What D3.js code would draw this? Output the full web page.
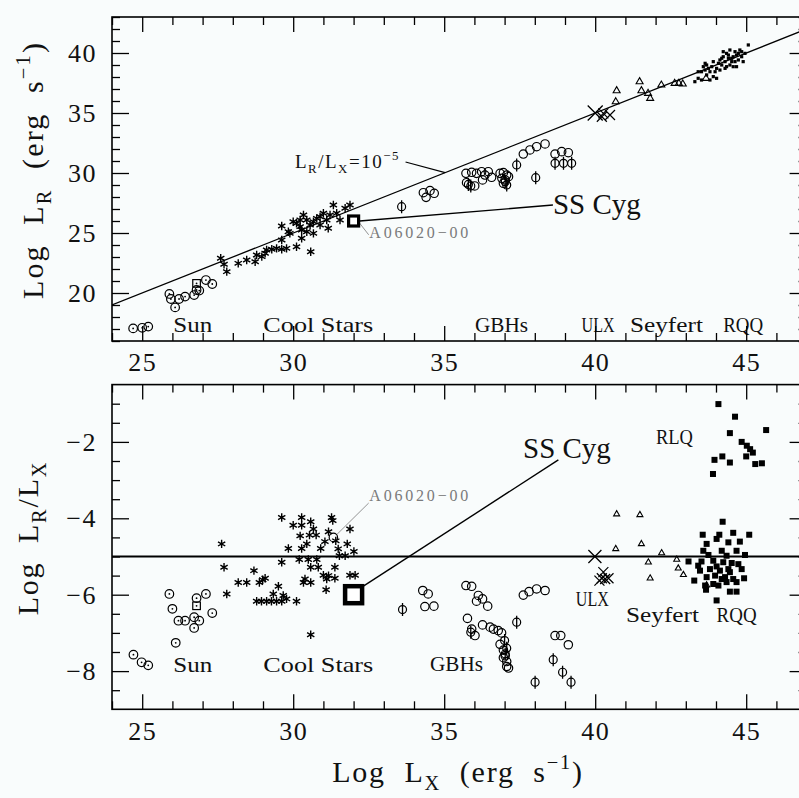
<!DOCTYPE html>
<html><head><meta charset="utf-8">
<script src="https://cdn.jsdelivr.net/npm/d3@7"></script>
<style>
html,body{margin:0;padding:0;background:#f9fcfc;}
svg{display:block;}
</style></head><body>
<svg id="chart" width="799" height="798"></svg>
<script>
// ---------------- DATA (log units) ----------------
const xDomain = [24, 47];
const topYDomain = [16, 43];
const botYDomain = [-9, -0.5];
const xMajorTicks = [25, 30, 35, 40, 45];
const topYMajorTicks = [20, 25, 30, 35, 40];
const botYMajorTicks = [-2, -4, -6, -8];

// ---- top panel: Log LR vs Log LX
const topSun = [[24.7,17.05],[25.0,17.1],[25.2,17.2],[25.9,19.92],[25.95,19.5],[26.09,18.8],[26.22,19.5],[26.42,19.7],[26.72,19.83],[26.8,20.25],[26.89,20.2],[27.11,21.08],[27.32,20.75]];
const topSunSquare = [[26.8,20.8]];
const topCoolStars = [[27.6,22.89],[27.71,22.39],[27.8,21.78],[28.18,22.47],[28.46,22.75],[28.74,22.61],[28.79,23.17],[28.96,23.03],[29.07,23.31],[29.12,23.58],[29.29,23.64],[29.45,23.72],[29.62,23.64],[29.62,24.42],[29.78,23.72],[30.11,23.86],[30.58,23.44],[29.62,25.58],[29.84,25.11],[30.0,25.94],[30.23,26.08],[30.28,25.25],[30.28,24.56],[30.45,25.11],[30.56,25.67],[30.67,24.97],[30.78,26.22],[30.89,26.36],[31.0,26.64],[31.11,26.08],[31.16,25.39],[31.22,26.5],[31.33,27.33],[31.44,26.64],[31.55,26.08],[31.72,27.06],[30.34,26.5],[30.11,25.81],[30.67,25.94],[30.89,25.67],[29.89,24.97],[30.45,26.08],[30.23,25.53],[31.88,27.33]];
const topGbhCircles = [[35.72,29.97],[35.91,30.06],[36.07,29.97],[36.24,30.11],[36.35,29.83],[36.46,30.11],[36.27,29.42],[36.57,29.64],[35.74,29.19],[36.01,28.92],[36.85,29.97],[36.96,30.03],[37.07,29.83],[36.91,29.56],[37.02,29.42],[37.13,29.69],[36.96,29.14],[37.62,31.58],[37.84,31.92],[38.06,32.19],[38.34,32.42],[38.67,31.58],[38.89,31.78],[39.11,31.69],[34.31,28.36],[34.53,28.53],[34.67,28.31],[34.4,27.97]];
const topGbhPhi = [[33.59,27.19],[35.88,28.92],[35.8,29.05],[37.02,29.28],[37.07,29.0],[37.4,30.67],[38.03,29.61],[38.67,30.81],[38.95,30.81],[39.22,30.81]];
const topUlxBig = [[40.0,35.0]];
const topUlx = [[40.22,34.69],[40.49,34.83],[40.27,34.97]];
const topSeyferts = [[40.71,36.86],[40.68,35.94],[41.47,37.61],[41.53,36.86],[41.75,36.64],[41.82,36.22],[42.19,37.33],[42.63,37.47],[42.77,37.47],[42.9,37.42],[43.67,37.89]];
const topQuasars = [[43.3,37.61],[43.41,37.89],[43.52,38.44],[43.58,38.86],[43.64,38.58],[43.69,38.17],[43.75,38.72],[43.8,38.44],[43.86,38.86],[43.91,38.03],[43.97,38.44],[44.02,38.72],[44.08,39.14],[44.13,39.42],[44.19,39.0],[44.24,39.69],[44.3,39.28],[44.35,39.97],[44.41,39.56],[44.46,39.0],[44.52,39.28],[44.57,39.69],[44.63,40.11],[44.68,39.83],[44.74,39.42],[44.79,40.25],[44.85,39.69],[44.9,39.28],[44.96,39.97],[44.24,40.11],[44.19,39.56],[44.35,38.86],[44.46,40.25],[44.57,38.86],[44.68,38.86],[44.13,38.58],[44.02,37.89],[43.8,37.75],[43.64,39.14],[43.41,38.44],[43.52,37.75],[43.69,39.0],[43.91,39.28],[44.41,39.83],[44.52,39.56],[44.74,39.97],[44.85,40.11],[45.07,40.67],[44.3,38.72],[44.63,39.28]];
const topSSCyg = [[32.0, 26.0]];
const refRatio = -5; // LR/LX = 1e-5

// ---- bottom panel: Log LR/LX vs Log LX
const botSun = [[24.71,-7.57],[24.98,-7.77],[25.2,-7.85],[25.9,-5.98],[26.0,-6.37],[26.11,-7.26],[26.2,-6.68],[26.42,-6.68],[26.72,-6.59],[26.72,-6.87],[26.8,-6.09],[26.89,-6.68],[27.11,-5.98],[27.32,-6.48]];
const botSunSquare = [[26.8,-6.29]];
const botCoolStars = [[27.63,-4.67],[27.71,-5.28],[27.8,-5.98],[28.18,-5.68],[28.46,-5.68],[28.7,-5.37],[28.79,-6.17],[28.88,-5.68],[28.99,-5.61],[29.07,-5.57],[28.95,-6.17],[29.12,-6.17],[29.28,-6.17],[29.45,-6.17],[29.62,-6.17],[29.34,-5.98],[29.51,-5.78],[29.62,-5.15],[29.62,-3.98],[29.67,-6.02],[29.78,-6.11],[29.84,-4.79],[30.0,-4.18],[30.11,-6.17],[30.2,-5.08],[30.28,-3.98],[30.28,-4.18],[30.23,-4.46],[30.28,-4.79],[30.34,-5.68],[30.39,-5.59],[30.45,-4.67],[30.5,-5.08],[30.54,-4.44],[30.58,-4.09],[30.58,-5.28],[30.58,-5.68],[30.58,-7.05],[30.67,-4.28],[30.76,-4.44],[30.78,-5.08],[30.83,-5.28],[30.91,-4.79],[31.0,-5.49],[31.05,-4.61],[31.09,-5.87],[31.11,-5.59],[31.17,-5.5],[31.17,-4.35],[31.27,-3.98],[31.31,-4.06],[31.38,-5.28],[31.38,-5.57],[31.41,-4.59],[31.49,-4.8],[31.53,-4.98],[31.72,-4.98],[31.79,-4.67],[31.88,-4.28],[31.88,-5.49],[32.05,-5.49],[32.01,-4.87]];
const botA0620 = [[31.33,-4.5]];
const botGbhCircles = [[34.29,-5.89],[34.47,-5.98],[34.36,-6.31],[34.66,-6.3],[35.72,-5.76],[35.91,-5.78],[36.13,-6.02],[36.07,-6.17],[36.27,-6.11],[36.44,-6.3],[35.77,-6.62],[35.91,-6.9],[36.02,-7.07],[36.27,-6.79],[36.52,-6.85],[36.63,-6.9],[36.79,-6.94],[36.9,-7.0],[36.85,-7.3],[36.96,-7.45],[37.02,-7.6],[37.07,-7.75],[37.07,-7.88],[37.13,-7.92],[36.96,-7.65],[37.62,-6.01],[37.81,-5.92],[38.06,-5.85],[38.34,-5.89],[38.67,-7.07],[38.86,-7.07],[39.11,-7.31]];
const botGbhPhi = [[33.62,-6.39],[35.88,-6.98],[37.0,-7.2],[37.07,-7.4],[37.02,-7.55],[37.4,-6.72],[38.01,-8.29],[38.61,-7.7],[38.92,-8.03],[39.2,-8.29]];
const botUlxBig = [[39.99,-5.0]];
const botUlx = [[40.22,-5.57],[40.33,-5.59],[40.44,-5.57],[40.14,-5.63],[40.27,-5.41]];
const botSeyferts = [[40.71,-3.89],[41.48,-3.91],[40.68,-4.8],[41.53,-4.67],[42.2,-4.91],[41.76,-5.15],[41.82,-5.57],[42.7,-5.08],[42.75,-5.31],[42.92,-5.48],[43.69,-5.75]];
const botRLQ = [[44.08,-1.01],[44.63,-1.34],[44.46,-1.77],[45.66,-1.69],[44.85,-2.0],[45.02,-2.1],[45.13,-2.19],[45.22,-2.28],[45.0,-2.38],[45.3,-2.58],[45.52,-2.56],[43.95,-2.47],[44.21,-2.38],[44.46,-2.54],[43.9,-2.84]];
const botRQQ = [[44.22,-4.09],[43.56,-4.43],[44.11,-4.43],[44.57,-4.38],[45.1,-4.43],[43.69,-4.67],[44.02,-4.54],[44.41,-4.63],[44.79,-4.61],[43.58,-4.85],[44.19,-4.85],[44.68,-4.85],[44.96,-4.96],[43.75,-4.96],[44.35,-4.98],[43.09,-5.13],[43.52,-5.13],[43.91,-5.11],[44.24,-5.15],[44.52,-5.17],[44.74,-5.2],[43.47,-5.37],[43.8,-5.33],[44.13,-5.37],[44.41,-5.33],[44.85,-5.33],[43.28,-5.63],[43.69,-5.54],[43.97,-5.5],[44.3,-5.54],[44.57,-5.59],[44.93,-5.57],[43.64,-5.76],[43.91,-5.72],[44.08,-5.76],[44.35,-5.67],[44.68,-5.67],[43.67,-5.87],[44.46,-5.92],[44.68,-5.92],[44.02,-6.15],[43.41,-5.24],[44.02,-5.26],[44.46,-5.41],[44.19,-5.59]];
const botSSCyg = [[32.0,-6.0]];

// ---- class labels [text, logLX of left edge, baseline value]
const topClassLabels = [["Sun",26.03,16.75],["Cool Stars",29.01,16.75],["GBHs",36.02,16.75],["ULX",39.55,16.75],["Seyfert",41.15,16.75],["RQQ",44.24,16.75]];
const botClassLabels = [["Sun",26.03,-8.02],["Cool Stars",29.01,-8.02],["GBHs",34.53,-7.99],["ULX",39.36,-6.3],["Seyfert",41.02,-6.72],["RQQ",44.02,-6.72],["RLQ",42.01,-2.05]];
// rendered widths (px) of the label glyph runs, to mimic the narrow capitals of the original font
const classLabelWidth = {"Sun":39,"Cool Stars":110,"GBHs":53,"ULX":33,"Seyfert":73,"RQQ":40,"RLQ":37};

// ---------------- DRAWING ----------------
const svg = d3.select("#chart");
svg.append("rect").attr("width",799).attr("height",798).attr("fill","#f9fcfc");

const x = d3.scaleLinear().domain(xDomain).range([112, 806.6]);
const yTop = d3.scaleLinear().domain(topYDomain).range([341, 17]);
const yBot = d3.scaleLinear().domain(botYDomain).range([709.3, 384.6]);

const SERIF = "'Liberation Serif','Times New Roman',serif";

function minorValues(lo, hi, step, majors) {
  const out = [];
  for (let v = lo; v <= hi + 1e-9; v += step) {
    const r = Math.round(v*100)/100;
    if (!majors.some(m => Math.abs(m - r) < 1e-6)) out.push(r);
  }
  return out;
}

function frameAxes(g, y, yMajor, yMinor) {
  const [xl, xr] = x.range();
  const [yb, yt] = y.range();
  const xMinor = minorValues(xDomain[0], xDomain[1], 1, xMajorTicks);
  const styleAxis = a => { a.select(".domain").remove(); a.selectAll("line").attr("stroke","#000").attr("stroke-width",1.3); };
  const styleText = a => a.selectAll("text").attr("font-family",SERIF).attr("font-size",26).attr("letter-spacing",1.5).attr("fill","#111");
  g.append("g").attr("transform",`translate(0,${yb})`)
    .call(d3.axisBottom(x).tickValues(xMajorTicks).tickSize(-15).tickPadding(12).tickFormat(d3.format("d")))
    .call(styleAxis).call(styleText);
  g.append("g").attr("transform",`translate(0,${yb})`)
    .call(d3.axisBottom(x).tickValues(xMinor).tickSize(-8).tickFormat("")).call(styleAxis);
  g.append("g").attr("transform",`translate(0,${yt})`)
    .call(d3.axisTop(x).tickValues(xMajorTicks).tickSize(-15).tickFormat("")).call(styleAxis);
  g.append("g").attr("transform",`translate(0,${yt})`)
    .call(d3.axisTop(x).tickValues(xMinor).tickSize(-8).tickFormat("")).call(styleAxis);
  g.append("g").attr("transform",`translate(${xl},0)`)
    .call(d3.axisLeft(y).tickValues(yMajor).tickSize(-17).tickPadding(15))
    .call(styleAxis).call(styleText);
  g.append("g").attr("transform",`translate(${xl},0)`)
    .call(d3.axisLeft(y).tickValues(yMinor).tickSize(-8).tickFormat("")).call(styleAxis);
  g.append("g").attr("transform",`translate(${xr},0)`)
    .call(d3.axisRight(y).tickValues(yMajor).tickSize(-17).tickFormat("")).call(styleAxis);
  g.append("g").attr("transform",`translate(${xr},0)`)
    .call(d3.axisRight(y).tickValues(yMinor).tickSize(-8).tickFormat("")).call(styleAxis);
  g.append("rect").attr("x",xl).attr("y",yt).attr("width",xr-xl).attr("height",yb-yt)
    .attr("fill","none").attr("stroke","#000").attr("stroke-width",1.6);
}

// ---- symbol helpers
function sunSym(g, data, y, r=4.3) {
  const s = g.append("g");
  s.selectAll("circle.o").data(data).join("circle").attr("cx",d=>x(d[0])).attr("cy",d=>y(d[1])).attr("r",r)
    .attr("fill","none").attr("stroke","#000").attr("stroke-width",1.2);
  s.selectAll("circle.d").data(data).join("circle").attr("class","d").attr("cx",d=>x(d[0])).attr("cy",d=>y(d[1])).attr("r",0.9).attr("fill","#000");
}
function sunSquareSym(g, data, y, h=4) {
  g.append("g").selectAll("rect").data(data).join("rect").attr("x",d=>x(d[0])-h).attr("y",d=>y(d[1])-h).attr("width",2*h).attr("height",2*h)
    .attr("fill","none").attr("stroke","#000").attr("stroke-width",1.2);
  g.append("g").selectAll("circle").data(data).join("circle").attr("cx",d=>x(d[0])).attr("cy",d=>y(d[1])).attr("r",0.9).attr("fill","#000");
}
function circleSym(g, data, y, r=4.2) {
  g.append("g").selectAll("circle").data(data).join("circle").attr("cx",d=>x(d[0])).attr("cy",d=>y(d[1])).attr("r",r)
    .attr("fill","none").attr("stroke","#000").attr("stroke-width",1.2);
}
function phiSym(g, data, y, r=4, l=6.5) {
  const s = g.append("g");
  circleSym(s, data, y, r);
  s.selectAll("line").data(data).join("line").attr("x1",d=>x(d[0])).attr("x2",d=>x(d[0]))
    .attr("y1",d=>y(d[1])-l).attr("y2",d=>y(d[1])+l).attr("stroke","#000").attr("stroke-width",1.3);
}
function starSym(g, data, y, a=4.2) {
  const p = d => {
    const cx = x(d[0]), cy = y(d[1]);
    let s = `M${cx},${cy-a}L${cx},${cy+a}`;
    [30,150].forEach(t => { const r = t*Math.PI/180; s += `M${cx-a*Math.cos(r)},${cy-a*Math.sin(r)}L${cx+a*Math.cos(r)},${cy+a*Math.sin(r)}`; });
    return s;
  };
  g.append("g").selectAll("path").data(data).join("path").attr("d",p).attr("stroke","#000").attr("stroke-width",1.4).attr("fill","none");
}
function crossSym(g, data, y, a=5, w=1.3) {
  g.append("g").selectAll("path").data(data).join("path")
    .attr("d",d=>{const cx=x(d[0]),cy=y(d[1]);return `M${cx-a},${cy-a}L${cx+a},${cy+a}M${cx-a},${cy+a}L${cx+a},${cy-a}`;})
    .attr("stroke","#000").attr("stroke-width",w).attr("fill","none");
}
function triSym(g, data, y, s=6.5) {
  const h = s*Math.sqrt(3)/2;
  g.append("g").selectAll("path").data(data).join("path")
    .attr("d",d=>{const cx=x(d[0]),cy=y(d[1]);return `M${cx},${cy-h*2/3}L${cx+s/2},${cy+h/3}L${cx-s/2},${cy+h/3}Z`;})
    .attr("stroke","#000").attr("stroke-width",1.1).attr("fill","none");
}
function sqFilled(g, data, y, s) {
  g.append("g").selectAll("rect").data(data).join("rect").attr("x",d=>x(d[0])-s/2).attr("y",d=>y(d[1])-s/2)
    .attr("width",s).attr("height",s).attr("fill","#000");
}
function sqOpen(g, data, y, s, w) {
  g.append("g").selectAll("rect").data(data).join("rect").attr("x",d=>x(d[0])-s/2).attr("y",d=>y(d[1])-s/2)
    .attr("width",s).attr("height",s).attr("fill","#fff").attr("stroke","#000").attr("stroke-width",w);
}
function classLabels(g, labels, y) {
  g.append("g").selectAll("text").data(labels).join("text")
    .attr("x",d=>x(d[1])).attr("y",d=>y(d[2])).text(d=>d[0])
    .attr("textLength",d=>classLabelWidth[d[0]]).attr("lengthAdjust","spacingAndGlyphs")
    .attr("font-family",SERIF).attr("font-size",22).attr("fill","#111");
}
function rich(g, parts, fs) {
  // parts: [text, kind] kind: n | sub | sup
  const t = g.append("text").attr("font-family",SERIF).attr("font-size",fs).attr("fill","#111").style("white-space","pre");
  let off = 0;
  parts.forEach(([s,k]) => {
    const target = k==="sub" ? 0.28*fs : k==="sup" ? -0.42*fs : 0;
    t.append("tspan").text(s).attr("dy", target-off).attr("font-size", k==="n" ? fs : fs*0.68);
    off = target;
  });
  return t;
}

// ---- clip paths
const defs = svg.append("defs");
defs.append("clipPath").attr("id","clipTop").append("rect").attr("x",112).attr("y",17).attr("width",806.6-112).attr("height",341-17);
defs.append("clipPath").attr("id","clipBot").append("rect").attr("x",112).attr("y",384.6).attr("width",806.6-112).attr("height",709.3-384.6);

// ================= TOP PANEL =================
const gT = svg.append("g");
const mT = gT.append("g").attr("clip-path","url(#clipTop)");
mT.append("line").attr("x1",x(xDomain[0])).attr("y1",yTop(xDomain[0]+refRatio)).attr("x2",x(xDomain[1])).attr("y2",yTop(xDomain[1]+refRatio))
  .attr("stroke","#000").attr("stroke-width",1.3);
sunSym(mT, topSun, yTop);
sunSquareSym(mT, topSunSquare, yTop, 3.8);
starSym(mT, topCoolStars, yTop);
circleSym(mT, topGbhCircles, yTop);
phiSym(mT, topGbhPhi, yTop);
crossSym(mT, topUlxBig, yTop, 7.5, 1.3);
crossSym(mT, topUlx, yTop, 5, 1.2);
triSym(mT, topSeyferts, yTop, 7);
sqFilled(mT, topQuasars, yTop, 3.2);
// LR/LX label + leader
mT.append("line").attr("x1",x(33.72)).attr("y1",yTop(30.92)).attr("x2",x(35.03)).attr("y2",yTop(35.03+refRatio)).attr("stroke","#000").attr("stroke-width",1.1);
rich(gT,[["L","n"],["R","sub"],["/L","n"],["X","sub"],["=10","n"],["−5","sup"]],19)
  .attr("letter-spacing",1.5).attr("transform",`translate(${x(30.06)},${yTop(30.42)})`);
// A0620-00 leader + label
mT.append("line").attr("x1",x(32.02)).attr("y1",yTop(26.4)).attr("x2",x(32.5)).attr("y2",yTop(24.85)).attr("stroke","#888").attr("stroke-width",0.9);
gT.append("text").attr("x",x(32.52)).attr("y",yTop(24.6)).text("A06020−00")
  .attr("font-family",SERIF).attr("font-size",16).attr("letter-spacing",2.8).attr("fill","#7a7a7a");
// SS Cyg leader + square + label
mT.append("line").attr("x1",x(topSSCyg[0][0])+6).attr("y1",yTop(topSSCyg[0][1])).attr("x2",x(38.6)).attr("y2",yTop(27.33)).attr("stroke","#000").attr("stroke-width",1.4);
sqOpen(mT, topSSCyg, yTop, 10, 3.2);
gT.append("text").attr("x",x(38.6)).attr("y",yTop(26.62)).text("SS Cyg").attr("font-family",SERIF).attr("font-size",29).attr("fill","#111");
classLabels(gT, topClassLabels, yTop);
frameAxes(gT, yTop, topYMajorTicks, minorValues(topYDomain[0], topYDomain[1], 1, topYMajorTicks));

// ================= BOTTOM PANEL =================
const gB = svg.append("g");
const mB = gB.append("g").attr("clip-path","url(#clipBot)");
mB.append("line").attr("x1",x(xDomain[0])).attr("y1",yBot(refRatio)).attr("x2",x(xDomain[1])).attr("y2",yBot(refRatio))
  .attr("stroke","#000").attr("stroke-width",2);
sunSym(mB, botSun, yBot);
sunSquareSym(mB, botSunSquare, yBot, 3.8);
starSym(mB, botCoolStars, yBot);
circleSym(mB, botA0620, yBot, 4.2);
circleSym(mB, botGbhCircles, yBot);
phiSym(mB, botGbhPhi, yBot);
crossSym(mB, botUlxBig, yBot, 6.5, 1.3);
crossSym(mB, botUlx, yBot, 5, 1.2);
triSym(mB, botSeyferts, yBot, 6);
sqFilled(mB, botRLQ, yBot, 6);
sqFilled(mB, botRQQ, yBot, 6);
mB.append("line").attr("x1",x(31.45)).attr("y1",yBot(-4.42)).attr("x2",x(32.5)).attr("y2",yBot(-3.6)).attr("stroke","#888").attr("stroke-width",0.9);
gB.append("text").attr("x",x(32.52)).attr("y",yBot(-3.55)).text("A06020−00")
  .attr("font-family",SERIF).attr("font-size",16).attr("letter-spacing",2.8).attr("fill","#7a7a7a");
mB.append("line").attr("x1",x(botSSCyg[0][0])+9).attr("y1",yBot(botSSCyg[0][1])-8).attr("x2",x(38.78)).attr("y2",yBot(-2.47)).attr("stroke","#000").attr("stroke-width",1.4);
sqOpen(mB, botSSCyg, yBot, 17, 4.5);
gB.append("text").attr("x",x(37.61)).attr("y",yBot(-2.42)).text("SS Cyg").attr("font-family",SERIF).attr("font-size",29).attr("fill","#111");
classLabels(gB, botClassLabels, yBot);
frameAxes(gB, yBot, botYMajorTicks, minorValues(-8.5, -1, 0.5, botYMajorTicks));

// ================= AXIS TITLES =================
rich(svg,[["Log  L","n"],["X","sub"],["  (erg  s","n"],["−1","sup"],[")","n"]],30)
  .attr("text-anchor","middle").attr("letter-spacing",1.8).attr("transform","translate(458,782)");
rich(svg,[["Log  L","n"],["R","sub"],["  (erg  s","n"],["−1","sup"],[")","n"]],30)
  .attr("text-anchor","middle").attr("letter-spacing",2.2).attr("transform","translate(43,170) rotate(-90)");
rich(svg,[["Log  L","n"],["R","sub"],["/L","n"],["X","sub"]],30)
  .attr("text-anchor","middle").attr("letter-spacing",1.8).attr("transform","translate(38,538) rotate(-90)");
</script>
</body></html>
